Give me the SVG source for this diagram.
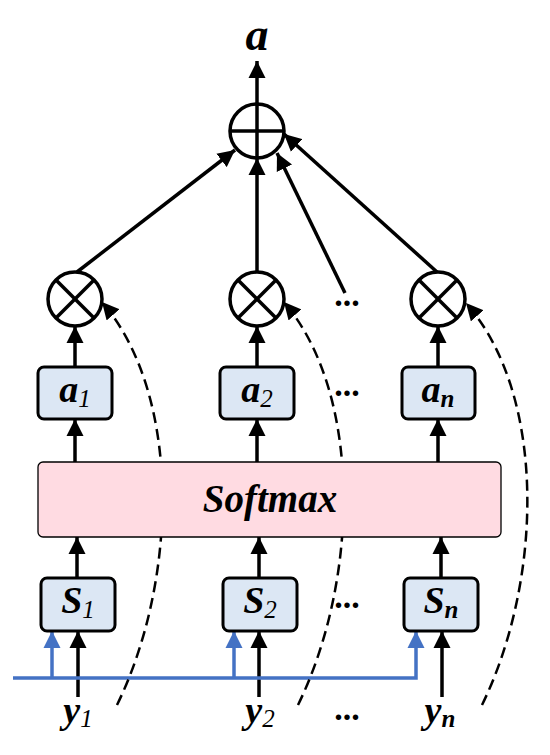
<svg xmlns="http://www.w3.org/2000/svg" width="550" height="755" viewBox="0 0 550 755">
<style>
.ln{stroke:#000;stroke-width:3.5;fill:none}
.bl{stroke:#4472C4;stroke-width:3.5;fill:none}
.dash{stroke:#000;stroke-width:2.5;fill:none;stroke-dasharray:11 6}
.box{fill:#dce7f4;stroke:#000;stroke-width:3}
.op{fill:#fff;stroke:#000;stroke-width:3.5}
text{font-family:'Liberation Serif','Times New Roman',serif}
.lbl{font-style:italic;font-weight:bold;font-size:38px;fill:#000}
.sub{font-size:25px;font-weight:normal}
.subb{font-size:25px;font-weight:bold}
.dots{font-weight:bold;font-size:34px;fill:#000}
</style>
<defs>
<marker id="ah" viewBox="0 0 10 10" refX="10" refY="5" markerUnits="userSpaceOnUse" markerWidth="17" markerHeight="18" orient="auto">
<path d="M0,0 L10,5 L0,10 z" fill="#000"/>
</marker>
<marker id="ahb" viewBox="0 0 10 10" refX="10" refY="5" markerUnits="userSpaceOnUse" markerWidth="17" markerHeight="18" orient="auto">
<path d="M0,0 L10,5 L0,10 z" fill="#4472C4"/>
</marker>
<marker id="ahs" viewBox="0 0 10 10" refX="10" refY="5" markerUnits="userSpaceOnUse" markerWidth="17" markerHeight="17" orient="auto">
<path d="M0,0 L10,5 L0,10 z" fill="#000"/>
</marker>
</defs>

<g id="connectors">
  <line class="ln" x1="257" y1="104" x2="257" y2="61" marker-end="url(#ah)"/>
  <line class="ln" x1="77" y1="272" x2="235" y2="150" marker-end="url(#ah)"/>
  <line class="ln" x1="257" y1="272" x2="257" y2="158" marker-end="url(#ah)"/>
  <line class="ln" x1="345" y1="293" x2="277" y2="153" marker-end="url(#ah)"/>
  <line class="ln" x1="437" y1="272" x2="284" y2="134" marker-end="url(#ah)"/>
  <line class="ln" x1="75" y1="367" x2="75" y2="326" marker-end="url(#ah)"/>
  <line class="ln" x1="257" y1="367" x2="257" y2="326" marker-end="url(#ah)"/>
  <line class="ln" x1="438" y1="367" x2="438" y2="326" marker-end="url(#ah)"/>
  <line class="ln" x1="75" y1="462" x2="75" y2="419" marker-end="url(#ah)"/>
  <line class="ln" x1="257" y1="462" x2="257" y2="419" marker-end="url(#ah)"/>
  <line class="ln" x1="438" y1="462" x2="438" y2="419" marker-end="url(#ah)"/>
  <line class="ln" x1="77" y1="578" x2="77" y2="537" marker-end="url(#ah)"/>
  <line class="ln" x1="259" y1="578" x2="259" y2="537" marker-end="url(#ah)"/>
  <line class="ln" x1="441" y1="578" x2="441" y2="537" marker-end="url(#ah)"/>
  <line class="ln" x1="78" y1="697" x2="78" y2="631" marker-end="url(#ah)"/>
  <line class="ln" x1="259" y1="697" x2="259" y2="631" marker-end="url(#ah)"/>
  <line class="ln" x1="442" y1="697" x2="442" y2="631" marker-end="url(#ah)"/>
  <polyline class="bl" points="13,678 416,678 416,631" marker-end="url(#ahb)"/>
  <line class="bl" x1="52" y1="678" x2="52" y2="631" marker-end="url(#ahb)"/>
  <line class="bl" x1="234" y1="678" x2="234" y2="631" marker-end="url(#ahb)"/>
  <path class="dash" d="M117,705 C178,580 182,395 102,302" marker-end="url(#ahs)"/>
  <path class="dash" d="M298,705 C359,580 363,395 284,302" marker-end="url(#ahs)"/>
  <path class="dash" d="M482,705 C543,580 547,395 466,303" marker-end="url(#ahs)"/>
</g>

<g id="sum">
  <circle class="op" cx="257" cy="131" r="27"/>
  <line class="ln" x1="230" y1="131" x2="284" y2="131"/>
  <line class="ln" x1="257" y1="104" x2="257" y2="158"/>
</g>
<g id="output">
  <text class="lbl" x="257" y="50" text-anchor="middle" font-family="Liberation Serif, serif" style="font-size:46px">a</text>
</g>

<g id="mul1">
  <circle class="op" cx="75" cy="299" r="27"/>
  <line class="ln" x1="56" y1="280" x2="94" y2="318"/>
  <line class="ln" x1="94" y1="280" x2="56" y2="318"/>
</g>
<g id="mul2">
  <circle class="op" cx="257" cy="299" r="27"/>
  <line class="ln" x1="238" y1="280" x2="276" y2="318"/>
  <line class="ln" x1="276" y1="280" x2="238" y2="318"/>
</g>
<g id="muln">
  <circle class="op" cx="438" cy="299" r="27"/>
  <line class="ln" x1="419" y1="280" x2="457" y2="318"/>
  <line class="ln" x1="457" y1="280" x2="419" y2="318"/>
</g>

<g id="a1">
  <rect class="box" x="38" y="367" width="74" height="52" rx="6"/>
  <text class="lbl" x="75" y="402" text-anchor="middle">a<tspan class="sub" dy="5">1</tspan></text>
</g>
<g id="a2">
  <rect class="box" x="220" y="367" width="74" height="52" rx="6"/>
  <text class="lbl" x="257" y="402" text-anchor="middle">a<tspan class="sub" dy="5">2</tspan></text>
</g>
<g id="an">
  <rect class="box" x="402" y="367" width="73" height="52" rx="6"/>
  <text class="lbl" x="438" y="402" text-anchor="middle">a<tspan class="subb" dy="5">n</tspan></text>
</g>

<g id="softmax">
  <rect x="38" y="462" width="463" height="75" rx="5" fill="#ffdbe2" stroke="#000" stroke-width="1.3"/>
  <text class="lbl" x="270" y="512" text-anchor="middle" style="font-size:39px">Softmax</text>
</g>

<g id="s1">
  <rect class="box" x="41" y="578" width="74" height="53" rx="6"/>
  <text class="lbl" x="78" y="613" text-anchor="middle">S<tspan class="sub" dy="5">1</tspan></text>
</g>
<g id="s2">
  <rect class="box" x="223" y="578" width="74" height="53" rx="6"/>
  <text class="lbl" x="260" y="613" text-anchor="middle">S<tspan class="sub" dy="5">2</tspan></text>
</g>
<g id="sn">
  <rect class="box" x="404" y="578" width="74" height="53" rx="6"/>
  <text class="lbl" x="441" y="613" text-anchor="middle">S<tspan class="subb" dy="5">n</tspan></text>
</g>

<g id="y1"><text class="lbl" x="78" y="723" text-anchor="middle">y<tspan class="sub" dy="4">1</tspan></text></g>
<g id="y2"><text class="lbl" x="260" y="723" text-anchor="middle">y<tspan class="sub" dy="4">2</tspan></text></g>
<g id="yn"><text class="lbl" x="440" y="723" text-anchor="middle">y<tspan class="subb" dy="4">n</tspan></text></g>

<g id="ellipses">
  <text class="dots" x="347" y="306" text-anchor="middle">...</text>
  <text class="dots" x="347" y="396" text-anchor="middle">...</text>
  <text class="dots" x="347" y="608" text-anchor="middle">...</text>
  <text class="dots" x="347" y="720" text-anchor="middle">...</text>
</g>
</svg>
